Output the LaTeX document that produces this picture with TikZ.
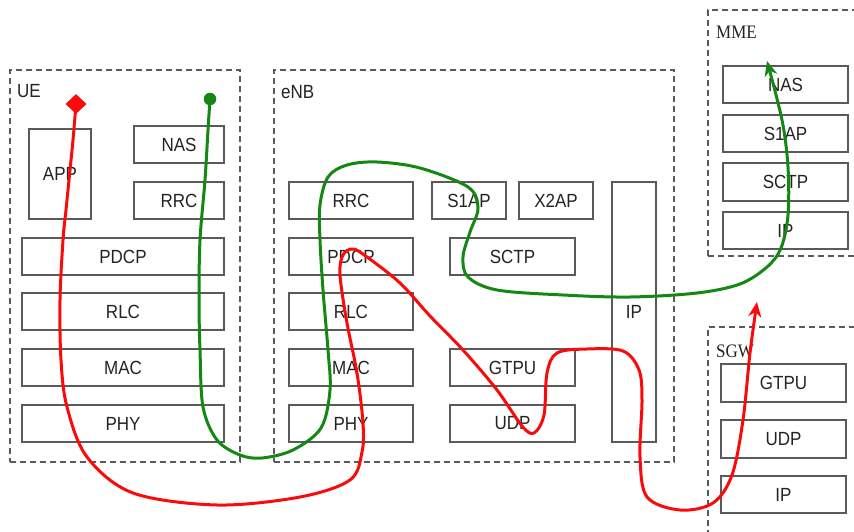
\documentclass[tikz,border=0pt]{standalone}
\usepackage{fontspec}
\usepackage{graphicx}
\setmainfont{Liberation Sans}
\newfontfamily\serifface{Liberation Serif}
\usetikzlibrary{arrows.meta,shapes.geometric}
\definecolor{gline}{RGB}{20,135,20}
\definecolor{rline}{RGB}{250,10,10}
\definecolor{boxgray}{RGB}{90,90,90}
\definecolor{txtgray}{RGB}{35,35,35}
\newcommand\TT[1]{\scalebox{1}[1.12]{#1}}
\tikzset{
  layer/.style={draw=boxgray, line width=1.1pt, inner sep=0pt, text=txtgray,
    font=\fontsize{17}{19}\selectfont},
  group/.style={draw=boxgray, line width=1.1pt, dash pattern=on 6pt off 4pt, inner sep=0pt},
  grplabel/.style={anchor=base west, inner sep=0pt, text=txtgray, font=\fontsize{17}{19}\selectfont},
  flow/.style={line width=3pt, line cap=round, line join=round, -{Stealth[length=15pt,width=13pt]}},
}
\newcommand\lay[6]{\node[layer, minimum width={(#4-#2)*1pt}, minimum height={(#5-#3)*1pt}] (#1) at ({(#2+#4)/2},{(#3+#5)/2}) {\TT{#6}};}
\newcommand\grp[5]{\node[group, minimum width={(#4-#2)*1pt}, minimum height={(#5-#3)*1pt}] (#1) at ({(#2+#4)/2},{(#3+#5)/2}) {};}
\begin{document}
\begin{tikzpicture}[x=1pt,y=-1pt]
\useasboundingbox (0,0) rectangle (854,532);
\clip (0,0) rectangle (854,532);
% containers
\grp{ue}{10}{70}{240}{462}
\grp{enb}{274}{70}{674}{462}
\grp{mme}{708}{10}{870}{256}
\grp{sgw}{708}{327}{870}{550}
\node[grplabel] (uel) at (17,98) {\TT{UE}};
\node[grplabel] (enbl) at (281,99) {\TT{eNB}};
\node[grplabel, font=\fontsize{17}{19}\serifface] (mmel) at (716,39) {\TT{MME}};
\node[grplabel, font=\fontsize{17}{19}\serifface] (sgwl) at (716,357) {\TT{SGW}};
% UE
\lay{app}{29}{129}{91}{219}{APP}
\lay{uenas}{134}{126}{224}{163}{NAS}
\lay{uerrc}{134}{182}{224}{219}{RRC}
\lay{uepdcp}{22}{238}{224}{275}{PDCP}
\lay{uerlc}{22}{293}{224}{330}{RLC}
\lay{uemac}{22}{349}{224}{386}{MAC}
\lay{uephy}{22}{405}{224}{442}{PHY}
% eNB
\lay{errc}{289}{182}{413}{219}{RRC}
\lay{es1ap}{432}{182}{506}{219}{S1AP}
\lay{ex2ap}{519}{182}{593}{219}{X2AP}
\lay{eip}{612}{182}{656}{442}{IP}
\lay{epdcp}{289}{238}{413}{275}{PDCP}
\lay{esctp}{450}{238}{575}{275}{SCTP}
\lay{erlc}{289}{293}{413}{330}{RLC}
\lay{emac}{289}{349}{413}{386}{MAC}
\lay{ephy}{289}{405}{413}{442}{PHY}
\lay{egtpu}{450}{349}{575}{386}{GTPU}
\lay{eudp}{450}{405}{575}{442}{UDP}
% MME
\lay{mnas}{723}{66}{848}{103}{NAS}
\lay{ms1ap}{723}{115}{848}{152}{S1AP}
\lay{msctp}{723}{163}{848}{201}{SCTP}
\lay{mip}{723}{212}{848}{249}{IP}
% SGW
\lay{sgtpu}{721}{364}{846}{402}{GTPU}
\lay{sudp}{721}{420}{846}{458}{UDP}
\lay{sip}{721}{476}{846}{513}{IP}
% start markers and end points
\node[diamond, fill=rline, inner sep=0pt, minimum width=21pt, minimum height=20pt] (rstart) at (76,104) {};
\node[circle, fill=gline, inner sep=0pt, minimum size=12.5pt] (gstart) at (210,99) {};
\coordinate (rend) at (757,302);
\coordinate (gend) at (767,61);
% green control-plane path
\draw[flow, draw=gline, fill=none] plot[smooth, tension=0.55] coordinates {
 (gstart) (208,130) (205,180) (200,240) (199,300) (200,350) (203,407) (217,440) (240,455)
 (262,458) (293,450) (321,428) (330,390) (328,350) (323,290) (320,240) (320,205) (328,177)
 (347,165) (377,162) (420,168) (468,187) (478,208) (470,232) (463,257) (468,277) (497,290)
 (563,295) (630,297) (697,293) (740,284) (767,267) (781,248) (788,215) (788,167) (782,120)
 (gend)};
% red user-plane path
\draw[flow, draw=rline, fill=none] plot[smooth, tension=0.55] coordinates {
 (rstart) (73,140) (70,170) (66,210) (63,240) (60,300) (61,360) (67,407) (87,457) (133,493)
 (217,505) (300,497) (350,480) (362,452) (363,423) (357,373) (347,323) (340,275) (343,255)
 (353,249) (367,257) (400,283) (430,316) (463,350) (497,390) (522,426) (534,433) (544,415)
 (547,373) (557,353) (587,349) (623,351) (639,370) (642,400) (640,457) (647,497) (680,510)
 (713,503) (732,475) (743,420) (750,353) (rend)};
\end{tikzpicture}
\end{document}
